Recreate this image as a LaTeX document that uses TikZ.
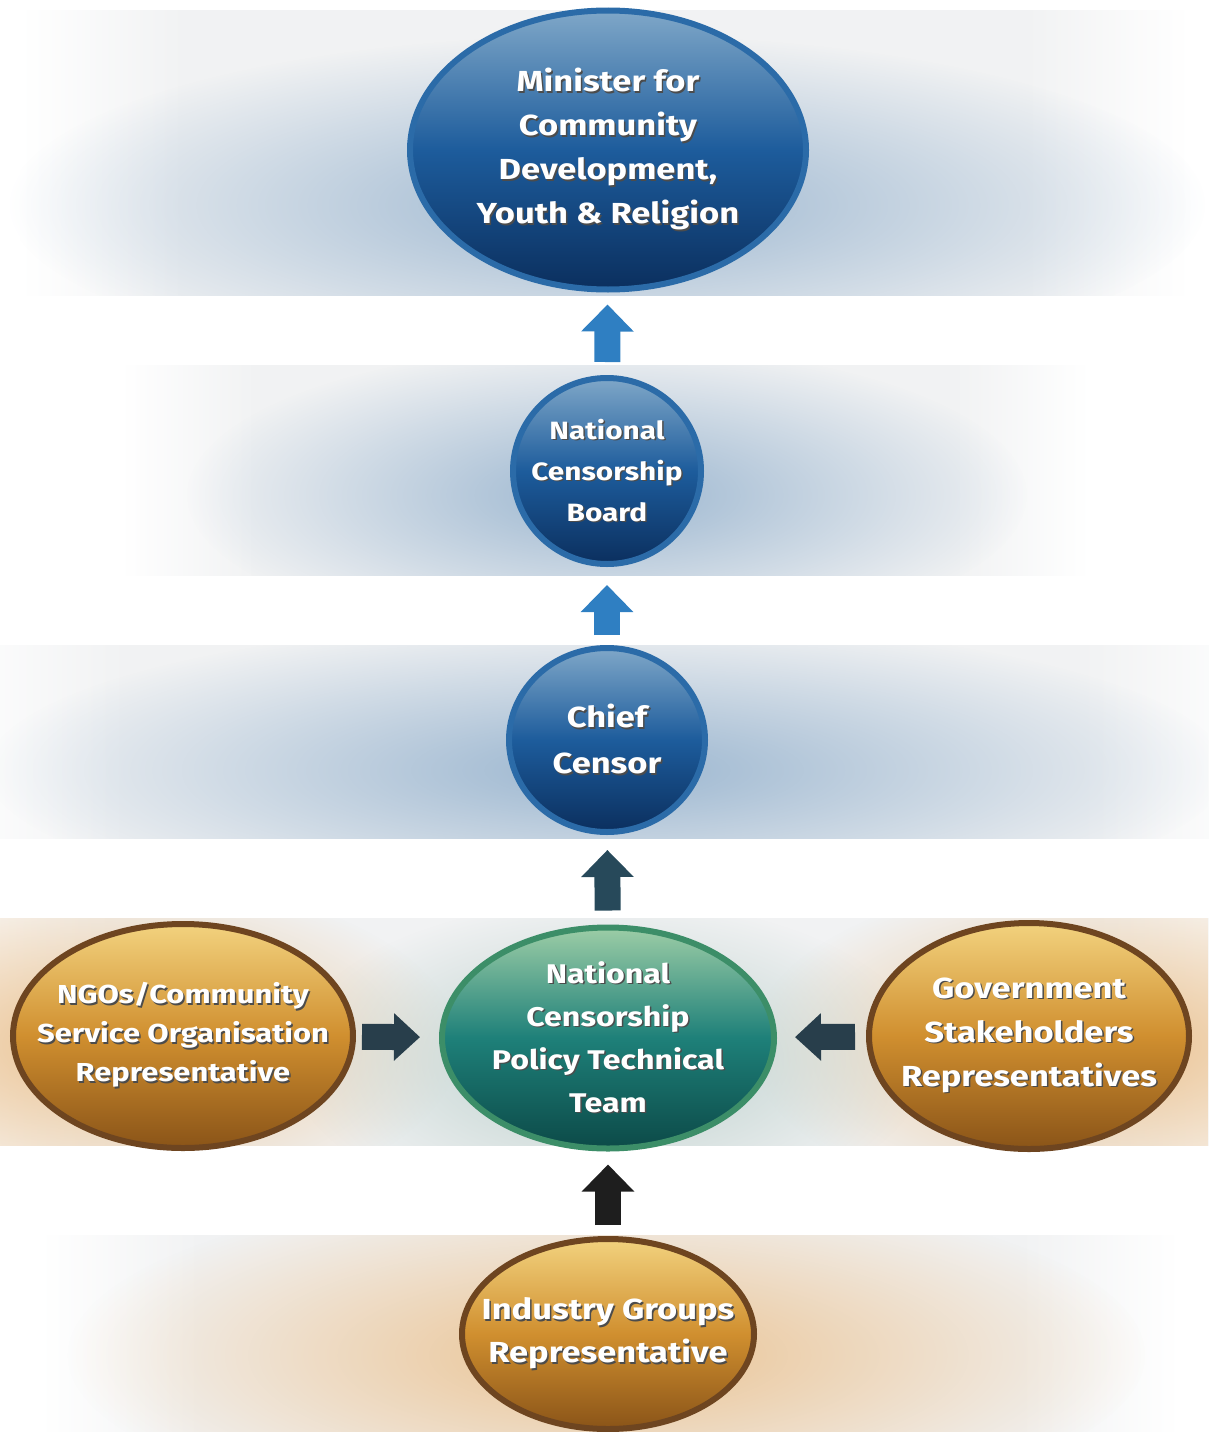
\documentclass[tikz,border=0pt]{standalone}
\usepackage{fontspec}
\setmainfont{Fira Sans}[FakeStretch=1.19]
\usetikzlibrary{shapes.geometric,arrows.meta,fadings}

\definecolor{bandgray}{HTML}{F1F2F3}
\definecolor{glowblue}{HTML}{9BB6D0}
\definecolor{gloworange}{HTML}{EBC290}
\definecolor{glowteal}{HTML}{B9CECA}
\definecolor{blueTop}{HTML}{7FA7C8}
\definecolor{blueMid}{HTML}{1D5C9C}
\definecolor{blueBot}{HTML}{0B2F5E}
\definecolor{blueRim}{HTML}{2B6BA8}
\definecolor{tealTop}{HTML}{9CCDA6}
\definecolor{tealMid}{HTML}{1E8079}
\definecolor{tealBot}{HTML}{0C4A48}
\definecolor{tealRim}{HTML}{3C8E68}
\definecolor{ochreTop}{HTML}{F2D27E}
\definecolor{ochreMid}{HTML}{D08F2F}
\definecolor{ochreBot}{HTML}{8A5418}
\definecolor{ochreRim}{HTML}{6E4520}
\definecolor{arrowblue}{HTML}{2F7FC2}
\definecolor{arrowteal}{HTML}{27495A}
\definecolor{arrowslate}{HTML}{283E4B}
\definecolor{arrowdark}{HTML}{1E1E1E}

% grey strip that fades out at both ends
\pgfdeclarehorizontalshading{bandshade}{100bp}{color(0bp)=(white); color(25bp)=(white);
  color(32bp)=(bandgray); color(68bp)=(bandgray); color(75bp)=(white); color(100bp)=(white)}
% soft haze, strongest in the middle
\tikzfading[name=softglow, inner color=transparent!0, outer color=transparent!100]

% white label text with a dark drop shadow
\newcommand{\emb}[1]{\rlap{\kern1.5pt\raisebox{-1.5pt}{\textcolor{black!70}{#1}}}#1}

\tikzset{
  bubble/.style={ellipse, inner xsep=-40pt, inner ysep=-30pt, line width=6pt, text=white, align=center},
  bluebubble/.style={bubble, draw=blueRim, top color=blueTop, bottom color=blueBot, middle color=blueMid},
  tealbubble/.style={bubble, draw=tealRim, top color=tealTop, bottom color=tealBot, middle color=tealMid},
  ochrebubble/.style={bubble, draw=ochreRim, top color=ochreTop, bottom color=ochreBot, middle color=ochreMid},
  vblock/.style={line width=26pt, -{Triangle[length=27pt,width=51pt]}},
  hblock/.style={line width=26pt, -{Triangle[length=26pt,width=46pt]}},
  glow/.style={path fading=softglow},
}

\begin{document}
\begin{tikzpicture}[x=1pt,y=-1pt]
  \useasboundingbox (0,0) rectangle (1208,1432);

  % background strips
  \fill[shading=bandshade] (20,10) rectangle (1190,295);
  \fill[shading=bandshade] (120,365) rectangle (1090,575);
  \fill[shading=bandshade] (-60,645) rectangle (1268,838);
  \fill[shading=bandshade] (-80,918) rectangle (1288,1145);
  \fill[shading=bandshade] (40,1235) rectangle (1180,1432);

  % coloured haze behind the bubbles
  \begin{scope}
    \clip (0,10) rectangle (1208,295);
    \fill[glowblue, glow] (608,205) ellipse (600 and 170);
  \end{scope}
  \begin{scope}
    \clip (0,365) rectangle (1208,575);
    \fill[glowblue, glow] (607,495) ellipse (420 and 150);
  \end{scope}
  \begin{scope}
    \clip (0,645) rectangle (1208,838);
    \fill[glowblue, glow] (607,770) ellipse (620 and 150);
  \end{scope}
  \begin{scope}
    \clip (0,918) rectangle (1208,1145);
    \fill[gloworange, glow] (100,1045) ellipse (360 and 170);
    \fill[gloworange, glow] (1110,1045) ellipse (360 and 170);
    \fill[glowteal, glow] (608,1060) ellipse (320 and 160);
  \end{scope}
  \begin{scope}
    \clip (0,1235) rectangle (1208,1432);
    \fill[gloworange, glow] (608,1355) ellipse (540 and 170);
  \end{scope}

  % bubbles
  \node[bluebubble, minimum width=396pt, minimum height=279pt,
        font=\fontsize{29}{44}\selectfont\bfseries] (minister) at (608,150)
    {\emb{Minister for}\\\emb{Community}\\\emb{Development,}\\\emb{Youth \& Religion}};
  \node[bluebubble, minimum width=188pt, minimum height=186pt,
        font=\fontsize{25}{41}\selectfont\bfseries] (board) at (607,471)
    {\emb{National}\\\emb{Censorship}\\\emb{Board}};
  \node[bluebubble, minimum width=196pt, minimum height=184pt,
        font=\fontsize{29}{46}\selectfont\bfseries] (censor) at (607,740)
    {\emb{Chief}\\\emb{Censor}};
  \node[tealbubble, minimum width=332pt, minimum height=221pt,
        font=\fontsize{27}{43}\selectfont\bfseries] (team) at (608,1038)
    {\emb{National}\\\emb{Censorship}\\\emb{Policy Technical}\\\emb{Team}};
  \node[ochrebubble, minimum width=340pt, minimum height=224pt,
        font=\fontsize{26}{39}\selectfont\bfseries] (ngo) at (183,1036)
    {\emb{NGOs/Community}\\\emb{Service Organisation}\\\emb{Representative}};
  \node[ochrebubble, minimum width=320pt, minimum height=226pt,
        font=\fontsize{29}{44}\selectfont\bfseries] (gov) at (1029,1036)
    {\emb{Government}\\\emb{Stakeholders}\\\emb{Representatives}};
  \node[ochrebubble, minimum width=292pt, minimum height=190pt,
        font=\fontsize{29}{43}\selectfont\bfseries] (industry) at (608,1334)
    {\emb{Industry Groups}\\\emb{Representative}};

  % block arrows
  \draw[vblock, arrowblue, shorten <=13pt, shorten >=12pt] (board) -- (minister);
  \draw[vblock, arrowblue, shorten <=10pt, shorten >=18pt] (censor) -- (board);
  \draw[vblock, arrowteal, shorten <=14pt, shorten >=15pt] (team) -- (censor);
  \draw[vblock, arrowdark, shorten <=11pt, shorten >=13pt] (industry) -- (team);
  \draw[hblock, arrowslate, shorten <=6pt, shorten >=19pt] (ngo) -- (team);
  \draw[hblock, arrowslate, shorten <=11pt, shorten >=18pt] (gov) -- (team);
\end{tikzpicture}
\end{document}
